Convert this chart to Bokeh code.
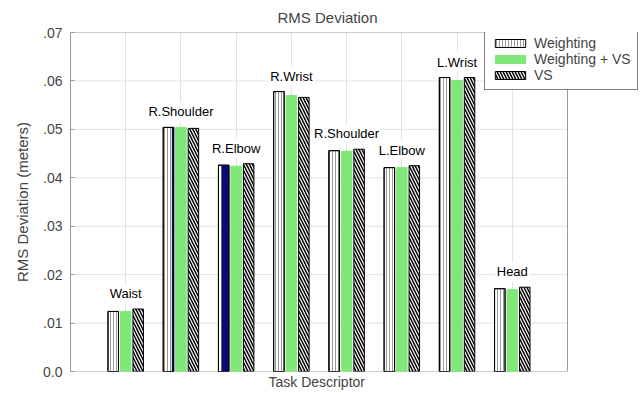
from bokeh.plotting import figure
from bokeh.models import ColumnDataSource, FixedTicker, Legend, LegendItem, Range1d, Title
from bokeh.core.properties import value
from bokeh.embed import file_html
from bokeh.resources import INLINE

# ---- data ----
tasks = ["Waist", "R.Shoulder", "R.Elbow", "R.Wrist", "R.Shoulder", "L.Elbow", "L.Wrist", "Head"]
weighting = [0.0124, 0.0504, 0.0426, 0.0578, 0.0456, 0.0421, 0.0607, 0.0171]
weighting_vs = [0.0124, 0.0504, 0.0424, 0.0570, 0.0455, 0.0421, 0.0601, 0.0169]
vs = [0.0129, 0.0502, 0.0429, 0.0566, 0.0459, 0.0425, 0.0607, 0.0174]
series_names = ["Weighting", "Weighting + VS", "VS"]
y_ticks = [0.0, 0.01, 0.02, 0.03, 0.04, 0.05, 0.06, 0.07]
y_tick_labels = ["0.0", ".01", ".02", ".03", ".04", ".05", ".06", ".07"]
navy_share = [0.0, 0.18, 0.7, 0.0, 0.0, 0.0, 0.0, 0.0]  # dark strip seen on some Weighting bars

FONT = "Liberation Sans"
GRID = "#e2e2e2"
BORDER = "#9a9a9a"
xs = list(range(1, len(tasks) + 1))
X_MAX = len(tasks) + 1     # plotted box spans 0 .. 9
Y_MAX = 0.07
bw = 0.19
off = 0.226

W, H = 641, 393
left, right, top, bottom = 70, 2, 31, 22
box_px = 497                       # pixel width of the 0..9 box
frame_w = W - left - right
x_end = X_MAX * frame_w / box_px   # frame is wider so the legend can overhang the box

p = figure(width=W, height=H, output_backend="svg", toolbar_location=None,
           x_range=Range1d(0, x_end), y_range=Range1d(0, Y_MAX),
           min_border_left=left, min_border_right=right, min_border_top=top,
           min_border_bottom=bottom)

p.title.text = "RMS Deviation"
p.title.text_font = FONT
p.title.text_font_size = "15px"
p.title.text_font_style = "normal"
p.title.align = "left"
p.title.offset = 207
p.title.standoff = 13

# grid and box borders limited to the 0..9 box
gy = y_ticks[1:-1]
p.segment(x0=[0] * len(gy), x1=[X_MAX] * len(gy), y0=gy, y1=gy, line_color=GRID, line_width=1)
p.segment(x0=[0, X_MAX, 0, 0], x1=[X_MAX, X_MAX, X_MAX, 0],
          y0=[Y_MAX, 0, 0, 0], y1=[Y_MAX, Y_MAX, 0, Y_MAX], line_color=BORDER, line_width=1)

src = ColumnDataSource(dict(
    x=xs, task=tasks,
    top=[max(a, b, c) for a, b, c in zip(weighting, weighting_vs, vs)],
))

r1 = p.vbar(x=[x - off for x in xs], top=weighting, width=bw, bottom=0,
            fill_color="white", line_color="black", line_width=1,
            hatch_pattern="|", hatch_color="#9a9a9a", hatch_scale=3, hatch_weight=1)
nav_w = [bw * s for s in navy_share]
nav_x = [x - off + bw / 2 - nw / 2 for x, nw in zip(xs, nav_w)]
p.vbar(x=nav_x, top=weighting, width=nav_w, bottom=0, fill_color="#0a0a78", line_color=None)
p.vbar(x=[x - off for x in xs], top=weighting, width=bw, bottom=0,
       fill_color=None, line_color="black", line_width=1)
r2 = p.vbar(x=xs, top=weighting_vs, width=bw, bottom=0,
            fill_color="#80e878", line_color="#80e878", line_width=1)
r3 = p.vbar(x=[x + off for x in xs], top=vs, width=bw, bottom=0,
            fill_color="white", line_color="black", line_width=1,
            hatch_pattern="\\", hatch_color="black", hatch_scale=6, hatch_weight=1.5)

p.text(x="x", y="top", text="task", source=src, text_align="center", text_baseline="bottom",
       y_offset=-6, text_font=value(FONT), text_font_size="13px", text_color="black",
       background_fill_color="white", padding=2)

# x axis: no ticks; its label is a title placed under the 0..9 box
p.xaxis.visible = False
xlab = Title(text="Task Descriptor", align="left", offset=198, standoff=0,
             text_font=FONT, text_font_size="14px", text_font_style="normal")
p.add_layout(xlab, "below")

p.yaxis.ticker = FixedTicker(ticks=y_ticks)
p.yaxis.major_label_overrides = {t: l for t, l in zip(y_ticks, y_tick_labels)}
p.yaxis.major_label_text_font = FONT
p.yaxis.major_label_text_font_size = "14px"
p.yaxis.major_tick_out = 0
p.yaxis.major_tick_in = 4
p.yaxis.major_tick_line_color = BORDER
p.yaxis.minor_tick_out = 0
p.yaxis.minor_tick_in = 0
p.yaxis.major_label_standoff = 8
p.yaxis.axis_label = "RMS Deviation (meters)"
p.yaxis.axis_label_text_font = FONT
p.yaxis.axis_label_text_font_size = "15px"
p.yaxis.axis_label_text_font_style = "normal"
p.yaxis.axis_label_standoff = 9
p.yaxis.axis_line_color = BORDER

p.xgrid.ticker = FixedTicker(ticks=list(range(0, X_MAX + 1)))
p.xgrid.grid_line_color = GRID
p.ygrid.visible = False
p.outline_line_color = None

frame_h = H - top - bottom
leg_h = 57
legend = Legend(items=[LegendItem(label=series_names[0], renderers=[r1]),
                       LegendItem(label=series_names[1], renderers=[r2]),
                       LegendItem(label=series_names[2], renderers=[r3])],
                location=(414, frame_h - leg_h - 2), glyph_width=38, glyph_height=10, label_height=15,
                label_standoff=5, padding=6, spacing=0, margin=0,
                label_text_font=FONT, label_text_font_size="14px",
                border_line_color="black", border_line_width=1.5,
                background_fill_color="white", background_fill_alpha=1)
p.add_layout(legend)

open("out.html", "w").write(file_html(p, INLINE))
